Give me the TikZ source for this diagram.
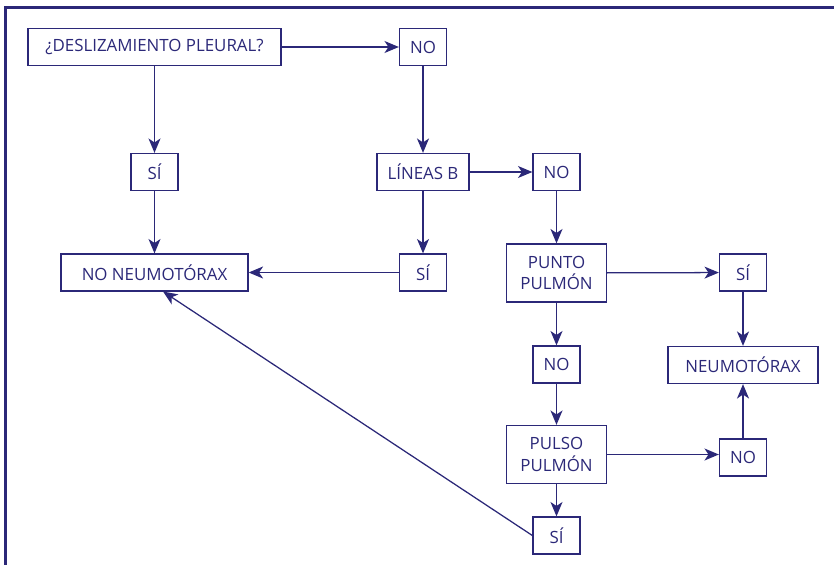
\documentclass[tikz,border=0pt]{standalone}
\usepackage{fontspec}
\setmainfont{Open Sans}
\usetikzlibrary{arrows.meta}
\definecolor{azul}{RGB}{43,40,120}

\begin{document}
\begin{tikzpicture}[x=0.025cm, y=-0.025cm, azul,
  caja/.style={draw, line width=0.9pt, text=azul, font=\fontsize{12}{15}\selectfont,
    minimum height=0.925cm, minimum width=1.175cm, inner xsep=0.2cm, align=center},
  doble/.style={caja, minimum height=1.45cm, minimum width=2.5cm},
  flecha/.style={-{Stealth[length=0.36cm, width=0.3cm, inset=0.1cm]}, line width=0.9pt}]
  \useasboundingbox (0,0) rectangle (834,565);
  % marco
  \draw[line width=2.2pt] (834,7.5) -- (5.5,7.5) -- (5.5,565);

  % cajas
  \node[caja, minimum width=6.325cm] (desl)   at (154.5,47)   {¿DESLIZAMIENTO PLEURAL?};
  \node[caja]                        (no1)    at (423,47)     {NO};
  \node[caja]                        (si1)    at (154.5,172)  {SÍ};
  \node[caja, minimum width=2.3cm]   (lineas) at (423,172)    {LÍNEAS B};
  \node[caja]                        (no2)    at (556.5,172)  {NO};
  \node[caja, minimum width=4.675cm] (nonm)   at (154.5,272.5){NO NEUMOTÓRAX};
  \node[caja]                        (si2)    at (423,272.5)  {SÍ};
  \node[doble]                       (punto)  at (556.5,273)  {PUNTO\\PULMÓN};
  \node[caja]                        (si3)    at (743,272.5)  {SÍ};
  \node[caja, minimum width=3.75cm]  (neumo)  at (743,365)    {NEUMOTÓRAX};
  \node[caja]                        (no3)    at (556.5,364.5){NO};
  \node[doble]                       (pulso)  at (556.5,454.5){PULSO\\PULMÓN};
  \node[caja]                        (no4)    at (743,457.5)  {NO};
  \node[caja]                        (si4)    at (556.5,535.5){SÍ};
  \coordinate (llegada) at (163,291.5);

  % flechas
  \draw[flecha] (desl) -- (no1);
  \draw[flecha] (desl) -- (si1);
  \draw[flecha] (si1) -- (nonm);
  \draw[flecha] (no1) -- (lineas);
  \draw[flecha] (lineas) -- (no2);
  \draw[flecha] (lineas) -- (si2);
  \draw[flecha] (si2) -- (nonm);
  \draw[flecha] (no2) -- (punto);
  \draw[flecha] (punto) -- (si3);
  \draw[flecha] (si3) -- (neumo);
  \draw[flecha] (punto) -- (no3);
  \draw[flecha] (no3) -- (pulso);
  \draw[flecha] (pulso.east) -- (pulso.east -| no4.west);
  \draw[flecha] (no4) -- (neumo);
  \draw[flecha] (pulso) -- (si4);
  \draw[flecha] (si4.west) -- (llegada);
\end{tikzpicture}
\end{document}
